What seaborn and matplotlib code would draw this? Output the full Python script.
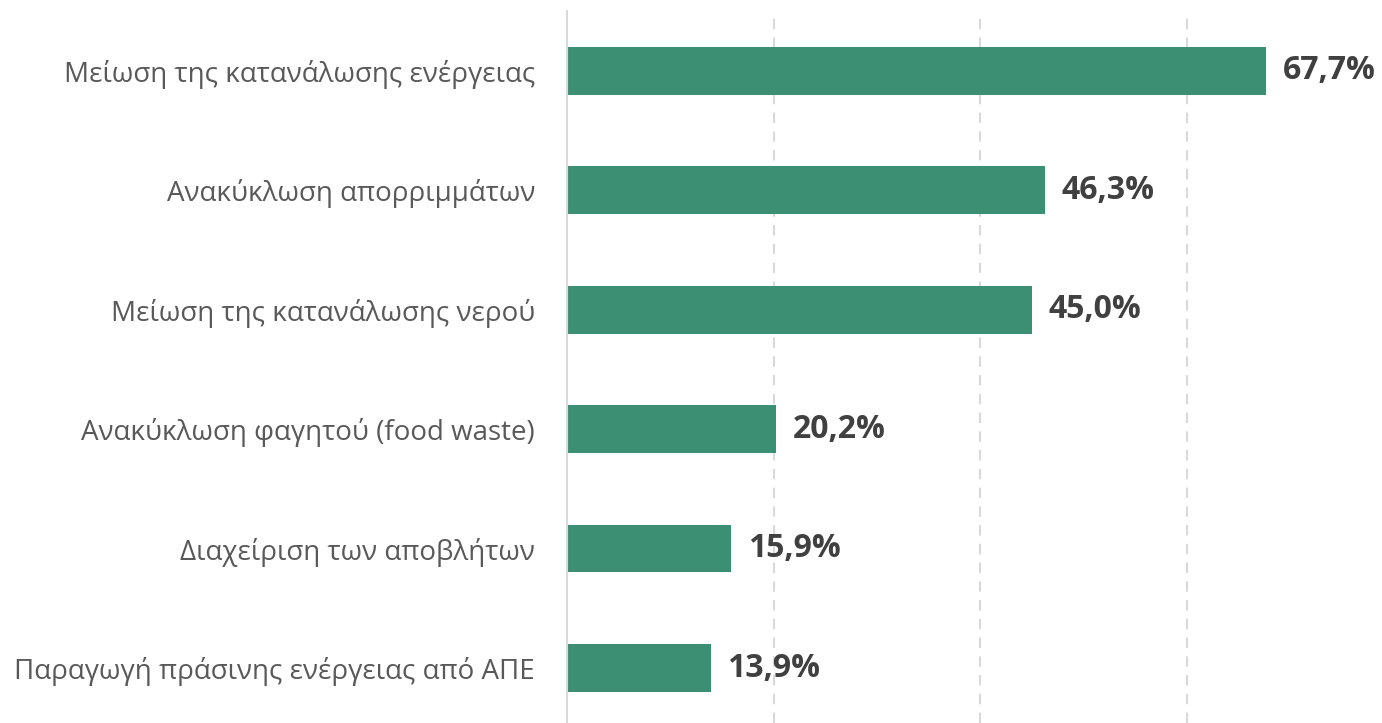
import matplotlib
matplotlib.use("Agg")
import matplotlib.pyplot as plt
import seaborn as sns
import pandas as pd

categories = [
    "Μείωση της κατανάλωσης ενέργειας",
    "Ανακύκλωση απορριμμάτων",
    "Μείωση της κατανάλωσης νερού",
    "Ανακύκλωση φαγητού (food waste)",
    "Διαχείριση των αποβλήτων",
    "Παραγωγή πράσινης ενέργειας από ΑΠΕ",
]
values = [67.7, 46.3, 45.0, 20.2, 15.9, 13.9]
value_labels = ["67,7%", "46,3%", "45,0%", "20,2%", "15,9%", "13,9%"]

sns.set_theme(style="white")
plt.rcParams["font.family"] = ["Open Sans", "DejaVu Sans"]

df = pd.DataFrame({"cat": categories, "val": values})

fig = plt.figure(figsize=(13.82, 7.23), dpi=100)
ax = fig.add_axes([567 / 1382, 0.0, 1 - 567 / 1382, 1 - 11 / 723])

sns.barplot(data=df, y="cat", x="val", orient="h", color="#3d8f73",
            saturation=1, width=0.4, linewidth=0, ax=ax, zorder=2)

ax.set_xlim(0, 78.9)
ax.set_ylim(5.46, -0.5)
ax.set_xticks([20, 40, 60])
ax.xaxis.grid(True, color="#d9d9d9", linestyle=(0, (5, 4)), linewidth=1.5, zorder=0)
ax.yaxis.grid(False)
ax.set_axisbelow(True)
for s in ["top", "right", "bottom"]:
    ax.spines[s].set_visible(False)
ax.spines["left"].set_color("#d9d9d9")
ax.spines["left"].set_linewidth(1.5)
ax.set_xlabel("")
ax.set_ylabel("")
ax.tick_params(axis="x", length=0, labelbottom=False)
ax.tick_params(axis="y", length=0, pad=23, labelsize=20, labelcolor="#595959")

for i, (v, lab) in enumerate(zip(values, value_labels)):
    ax.annotate(lab, xy=(v, i), xytext=(12, 0), textcoords="offset points",
                ha="left", va="center", fontsize=23, fontweight="bold",
                color="#404040", zorder=3)

fig.savefig("out.png", dpi=100)
